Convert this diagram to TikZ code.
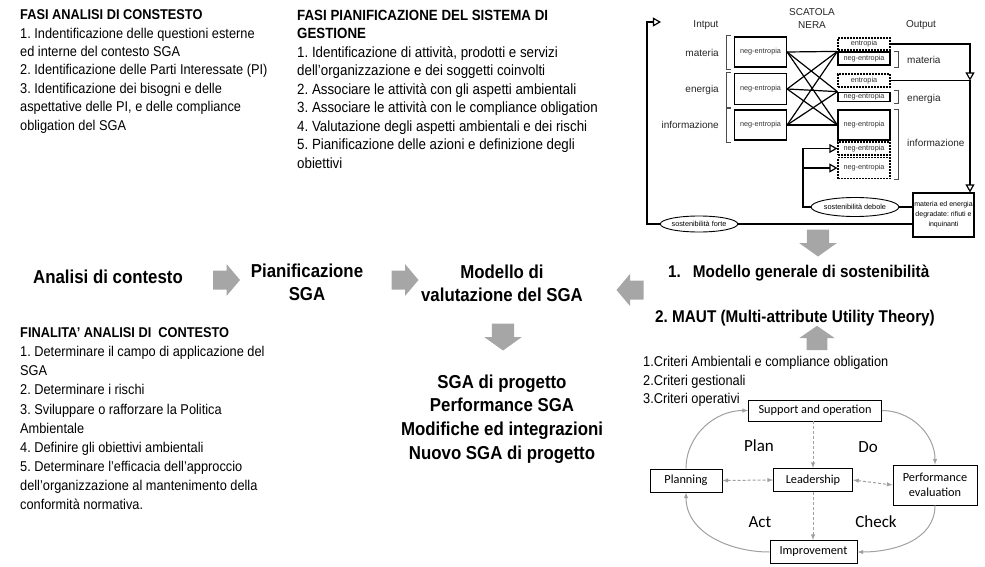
\documentclass[tikz,border=0pt]{standalone}
\usepackage{fontspec}
\setmainfont{Liberation Sans}[FakeStretch=0.9]
\newfontfamily\arialfont{Liberation Sans}
\newfontfamily\calibrifont{Carlito}
\definecolor{arrowgray}{RGB}{166,166,166}
\definecolor{pdcagray}{RGB}{160,160,160}
\usetikzlibrary{shapes,arrows}
\frenchspacing
\tikzset{
  blockarrow/.pic={
    \fill[arrowgray] (-13.5,-9.5) -- (0,-9.5) -- (0,-16) -- (13.5,0) -- (0,16) -- (0,9.5) -- (-13.5,9.5) -- cycle;
  }
}

\begin{document}
\begin{tikzpicture}[x=1pt,y=-1pt]
\tikzstyle{listtext}=[anchor=north west, align=left, inner sep=0pt, font=\fontsize{14.2}{18.4}\selectfont]
\tikzstyle{headline}=[align=center, inner sep=0pt, font=\fontsize{18.7}{23}\selectfont\bfseries]
\tikzstyle{negbox}=[rectangle, draw=black, line width=1.2pt, inner sep=0pt, minimum width=52pt, font=\arialfont\fontsize{7.3}{8}\selectfont, text=black!80]
\tikzstyle{entbox}=[negbox, dash pattern=on 2pt off 1pt]
\tikzstyle{blacklabel}=[inner sep=0pt, font=\arialfont\fontsize{10}{11}\selectfont, text=black!85]
\tikzstyle{sustain}=[ellipse, draw=black, line width=0.9pt, inner sep=0pt, font=\arialfont\fontsize{7.3}{8}\selectfont]
\tikzstyle{wire}=[line width=1.2pt]
\tikzstyle{bracket}=[line width=0.7pt, black!70]
\tikzstyle{pdca}=[rectangle, draw=black, line width=0.8pt, inner sep=0pt, font=\calibrifont\fontsize{12.3}{15}\selectfont]
\tikzstyle{phase}=[inner sep=0pt, font=\calibrifont\fontsize{17}{18}\selectfont]
\tikzstyle{pdcaline}=[pdcagray, line width=1pt, -latex]
\tikzstyle{dashlink}=[pdcagray, line width=1pt, dash pattern=on 3pt off 2pt]

\useasboundingbox (0,0) rectangle (985,567);

	\node[listtext] (fasi_analisi) at (20,9.5) {\textbf{FASI ANALISI DI CONSTESTO}\\1. Indentificazione delle questioni esterne\\ed interne del contesto SGA\\2. Identificazione delle Parti Interessate (PI)\\3. Identificazione dei bisogni e delle\\aspettative delle PI, e delle compliance\\obligation del SGA};
	\node[listtext, font=\fontsize{14.8}{18.5}\selectfont] (fasi_piano) at (297,9.5) {\textbf{FASI PIANIFICAZIONE DEL SISTEMA DI}\\\textbf{GESTIONE}\\1. Identificazione di attività, prodotti e servizi\\dell’organizzazione e dei soggetti coinvolti\\2. Associare le attività con gli aspetti ambientali\\3. Associare le attività con le compliance obligation\\4. Valutazione degli aspetti ambientali e dei rischi\\5. Pianificazione delle azioni e definizione degli\\obiettivi};
	\node[listtext, font=\fontsize{14.2}{19.1}\selectfont] (finalita) at (20,327.5) {\textbf{FINALITA’ ANALISI DI\ \ CONTESTO}\\1. Determinare il campo di applicazione del\\SGA\\2. Determinare i rischi\\3. Sviluppare o rafforzare la Politica\\Ambientale\\4. Definire gli obiettivi ambientali\\5. Determinare l’efficacia dell’approccio\\dell’organizzazione al mantenimento della\\conformità normativa.};
	\node[listtext, font=\fontsize{14.2}{18.5}\selectfont] (criteri) at (643,356.5) {1.Criteri Ambientali e compliance obligation\\2.Criteri gestionali\\3.Criteri operativi};

	\node[headline] (analisi) at (108,277) {Analisi di contesto};
	\node[headline] (pianif) at (307,282) {Pianificazione\\SGA};
	\node[headline] (modello) at (502,283) {Modello di\\valutazione del SGA};
	\node[headline, font=\fontsize{18.7}{23.6}\selectfont\bfseries] (progetto) at (502,419) {SGA di progetto\\Performance SGA\\Modifiche ed integrazioni\\Nuovo SGA di progetto};
	\node[headline, anchor=west, font=\fontsize{17}{20}\selectfont\bfseries] (generale) at (668,273) {1.\hspace{12pt}Modello generale di sostenibilità};
	\node[headline, anchor=west, font=\fontsize{17}{20}\selectfont\bfseries] (maut) at (655,318) {2. MAUT (Multi-attribute Utility Theory)};

	\pic (arr_1) at (226.5,280) {blockarrow};
	\pic (arr_2) at (405,280) {blockarrow};
	\pic[rotate=180] (arr_3) at (630,290) {blockarrow};
	\pic[rotate=-90, yscale=1.18] (arr_4) at (503,337) {blockarrow};
	\pic[rotate=90, yscale=1.1, xscale=0.9] (arr_5) at (817,338) {blockarrow};
	\pic[rotate=-90, yscale=1.18] (arr_6) at (818,243) {blockarrow};

	\node[blacklabel] (scatola) at (812,12) {SCATOLA};
	\node[blacklabel] (nera) at (812,25) {NERA};
	\node[blacklabel] (intput) at (706,25) {Intput};
	\node[blacklabel] (output) at (921,25) {Output};
	\node[blacklabel, anchor=east] (in_materia) at (719,53) {materia};
	\node[blacklabel, anchor=east] (in_energia) at (719,90) {energia};
	\node[blacklabel, anchor=east] (in_info) at (719,125) {informazione};
	\node[blacklabel, anchor=west] (out_materia) at (907,60) {materia};
	\node[blacklabel, anchor=west] (out_energia) at (907,99) {energia};
	\node[blacklabel, anchor=west] (out_info) at (907,143) {informazione};

	\node[negbox, minimum height=30pt] (in_1) at (760.5,52) {neg-entropia};
	\node[negbox, minimum height=31pt] (in_2) at (760.5,89) {neg-entropia};
	\node[negbox, minimum height=30pt] (in_3) at (760.5,125) {neg-entropia};
	\node[entbox, minimum height=12pt] (ent_1) at (864,44) {entropia};
	\node[negbox, minimum height=13pt] (out_1) at (864,58.5) {neg-entropia};
	\node[entbox, minimum height=13pt] (ent_2) at (864,80.5) {entropia};
	\node[negbox, minimum height=9.5pt] (out_2) at (864,97) {neg-entropia};
	\node[negbox, minimum height=30pt] (out_3) at (864,125) {neg-entropia};
	\node[entbox, minimum height=13pt] (deg_1) at (864,148.5) {neg-entropia};
	\node[entbox, minimum height=21pt] (deg_2) at (864,168) {neg-entropia};
	\node[negbox, minimum width=61pt, minimum height=44pt, align=center, font=\arialfont\fontsize{7}{10}\selectfont, text=black] (degradate) at (943.5,215) {materia ed energia\\degradate: rifiuti e\\inquinanti};
	\node[sustain, minimum width=76pt, minimum height=19pt] (debole) at (855,207) {sostenibilità debole};
	\node[sustain, minimum width=75pt, minimum height=16pt] (forte) at (699,224) {sostenibilità forte};

	\coordinate (loop_corner) at (647,22);
	\coordinate (loop_end) at (661,22);
	\coordinate (weak_top) at (803,148.5);
	\coordinate (drop) at (970,44);

	\path[wire]
		(in_1.east) edge (out_1.north west)
		(in_1.east) edge (out_2.north west)
		(in_1.east) edge (out_3.west)
		(in_2.east) edge (out_1.north west)
		(in_2.east) edge (out_2.north west)
		(in_2.east) edge (out_3.west)
		(in_3.east) edge (out_1.north west)
		(in_3.east) edge (out_2.north west)
		(in_3.east) edge (out_3.west);

	\draw[wire,-open triangle 60] (forte.west) -| (loop_corner) -- (loop_end);
	\draw[wire] (forte.east) -- (forte.east -| degradate.west);
	\draw[wire] (debole.east) -- (debole.east -| degradate.west);
	\draw[wire,-open triangle 60] (debole.west) -| (weak_top) -- (deg_1.west);
	\draw[wire,-open triangle 60] (weak_top |- deg_2.west) -- (deg_2.west);
	\draw[wire,-open triangle 60] (ent_1.east) -- (drop) -- (drop |- ent_2.east);
	\draw[wire] (ent_2.east) -- (drop |- ent_2.east);
	\draw[wire,-open triangle 60] (drop |- ent_2.east) -- (drop |- degradate.north);

	\draw[bracket] ([xshift=-3pt,yshift=1pt]in_1.north west) -- ++(-5,0) -- ([xshift=-8pt,yshift=-2pt]in_1.south west) -- ++(5,0);
	\draw[bracket] ([xshift=-3pt,yshift=1pt]in_2.north west) -- ++(-5,0) -- ([xshift=-8pt,yshift=-2pt]in_2.south west) -- ++(5,0);
	\draw[bracket] ([xshift=-3pt,yshift=1pt]in_3.north west) -- ++(-5,0) -- ([xshift=-8pt,yshift=-2pt]in_3.south west) -- ++(5,0);
	\draw[bracket] ([xshift=3pt]out_1.north east) -- ++(5,0) -- ([xshift=8pt,yshift=-2pt]out_1.south east) -- ++(-5,0);
	\draw[bracket] ([xshift=3pt,yshift=1pt]out_2.north east) -- ++(5,0) -- ([xshift=8pt,yshift=-1pt]out_2.south east) -- ++(-5,0);
	\draw[bracket] ([xshift=3pt]out_3.north east) -- ++(5,0) -- ([xshift=8pt]deg_2.south east) -- ++(-5,0);

	\node[pdca, minimum width=133pt, minimum height=21pt] (support) at (815,410.5) {Support and operation};
	\node[pdca, minimum width=79pt, minimum height=23pt] (leader) at (813,480) {Leadership};
	\node[pdca, minimum width=84pt, minimum height=40pt, align=center] (perform) at (935,485) {Performance\\evaluation};
	\node[pdca, minimum width=87pt, minimum height=23pt] (improve) at (813.5,552) {Improvement};
	\node[pdca, minimum width=72pt, minimum height=23pt] (planning) at (686,480.5) {Planning};
	\node[phase] (plan) at (759,446) {Plan};
	\node[phase] (do) at (868,447) {Do};
	\node[phase] (act) at (760,522) {Act};
	\node[phase] (check) at (876,522) {Check};

	\draw[pdcaline] (planning.north) to[out=90,in=180] (support.west);
	\draw[pdcaline] (support.east) to[out=0,in=90] (perform.north);
	\draw[pdcaline] (perform.south) to[out=-90,in=0] (improve.east);
	\draw[pdcaline] (improve.west) to[out=180,in=-90] (planning.south);
	\draw[dashlink,-latex] (support.south -| leader.north) -- (leader.north);
	\draw[dashlink,-latex] (leader.south) -- (improve.north -| leader.south);
	\draw[dashlink,latex-latex] (planning.east) -- (leader.west);
	\draw[dashlink,latex-latex] (leader.east) -- (perform.west);
\end{tikzpicture}
\end{document}
